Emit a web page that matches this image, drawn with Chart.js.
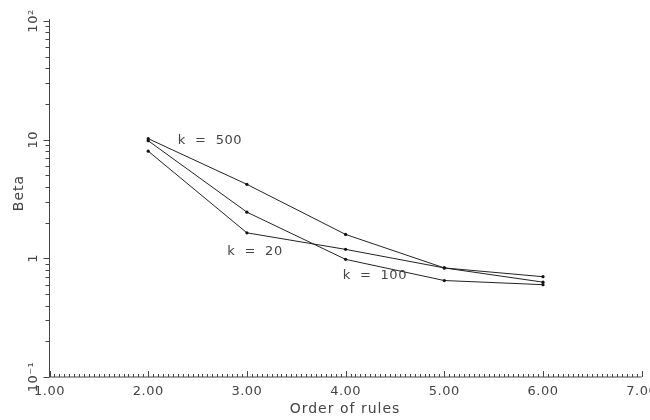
<!DOCTYPE html>
<html>
<head>
<meta charset="utf-8">
<script src="https://cdn.jsdelivr.net/npm/chart.js@4/dist/chart.umd.min.js"></script>
<style>
  html, body { margin: 0; padding: 0; background: #fff; }
</style>
</head>
<body>
<canvas id="chart" width="650" height="420"></canvas>
<script>
// Data
const orders = [2, 3, 4, 5, 6];
const beta500 = [10.2, 4.2, 1.59, 0.83, 0.70];
const beta100 = [9.8, 2.45, 0.98, 0.65, 0.60];
const beta20 = [8.0, 1.64, 1.19, 0.83, 0.63];

const xTickValues = [1, 2, 3, 4, 5, 6, 7];
const xTickLabels = ['1.00', '2.00', '3.00', '4.00', '5.00', '6.00', '7.00'];
const yDecades = [0.1, 1, 10, 100];
const yDecadeLabels = ['10\u207B\u00B9', '1', '10', '10\u00B2'];

// curve labels (data coordinates)
const curveNames = ['k  =  500', 'k  =  20', 'k  =  100'];
const curveLabelX = [2.30, 2.80, 3.97];
const curveLabelY = [9.9, 1.13, 0.72];

const FONT = '"DejaVu Sans", sans-serif';

function toPoints(values) {
    return orders.map((x, i) => ({ x: x, y: values[i] }));
}

function seriesStyle(values) {
    return {
        data: toPoints(values),
        borderColor: '#222',
        borderWidth: 1,
        pointRadius: 1.6,
        pointBackgroundColor: '#111',
        pointBorderWidth: 0,
        tension: 0,
        fill: false
    };
}

// Draws the plotter-style axes, ticks and texts
const axesPlugin = {
    id: 'plotterAxes',
    afterDraw(chart) {
        const ctx = chart.ctx;
        const xs = chart.scales.x;
        const ys = chart.scales.y;
        const area = chart.chartArea;

        ctx.save();
        ctx.strokeStyle = '#444';
        ctx.lineWidth = 1;

        // axis lines
        ctx.beginPath();
        ctx.moveTo(area.left, area.top - 2);
        ctx.lineTo(area.left, area.bottom);
        ctx.lineTo(area.right, area.bottom);
        ctx.stroke();

        // x ticks, every 0.05, pointing up
        ctx.beginPath();
        for (let i = 20; i <= 140; i++) {
            const px = Math.round(xs.getPixelForValue(i / 20)) + 0.5;
            const len = i % 20 === 0 ? 6 : 3;
            ctx.moveTo(px, area.bottom);
            ctx.lineTo(px, area.bottom - len);
        }
        ctx.stroke();

        // y ticks, log minor ticks pointing left
        ctx.beginPath();
        for (let d = 0; d < yDecades.length; d++) {
            for (let m = 1; m <= 9; m++) {
                const v = yDecades[d] * m;
                if (v > 100.0001) break;
                const py = Math.round(ys.getPixelForValue(v)) + 0.5;
                const len = m === 1 ? 6 : 4;
                ctx.moveTo(area.left - len, py);
                ctx.lineTo(area.left, py);
            }
        }
        ctx.stroke();

        // x tick labels
        ctx.fillStyle = '#444';
        ctx.font = '13px ' + FONT;
        ctx.textAlign = 'center';
        ctx.textBaseline = 'middle';
        ctx.letterSpacing = '0.5px';
        xTickValues.forEach((v, i) => {
            ctx.fillText(xTickLabels[i], xs.getPixelForValue(v), 392);
        });

        // y tick labels, rotated
        yDecades.forEach((v, i) => {
            ctx.save();
            ctx.translate(34, ys.getPixelForValue(v));
            ctx.rotate(-Math.PI / 2);
            ctx.fillText(yDecadeLabels[i], 0, 0);
            ctx.restore();
        });

        // axis titles
        ctx.font = '14px ' + FONT;
        ctx.letterSpacing = '1px';
        ctx.fillText('Order of rules', 345, 409);
        ctx.save();
        ctx.translate(19, 193);
        ctx.rotate(-Math.PI / 2);
        ctx.fillText('Beta', 0, 0);
        ctx.restore();

        // curve labels
        ctx.font = '13px ' + FONT;
        ctx.letterSpacing = '0.5px';
        ctx.textAlign = 'left';
        curveNames.forEach((name, i) => {
            ctx.fillText(name, xs.getPixelForValue(curveLabelX[i]), ys.getPixelForValue(curveLabelY[i]));
        });

        ctx.restore();
    }
};

new Chart(document.getElementById('chart'), {
    type: 'line',
    data: {
        datasets: [
            seriesStyle(beta500),
            seriesStyle(beta100),
            seriesStyle(beta20)
        ]
    },
    options: {
        responsive: false,
        animation: false,
        devicePixelRatio: 1,
        layout: {
            padding: { left: 49.5, right: 8.3, top: 21, bottom: 43 }
        },
        plugins: {
            legend: { display: false },
            tooltip: { enabled: false }
        },
        scales: {
            x: { type: 'linear', min: 1, max: 7, display: false },
            y: { type: 'logarithmic', min: 0.1, max: 100, display: false }
        }
    },
    plugins: [axesPlugin]
});
</script>
</body>
</html>
